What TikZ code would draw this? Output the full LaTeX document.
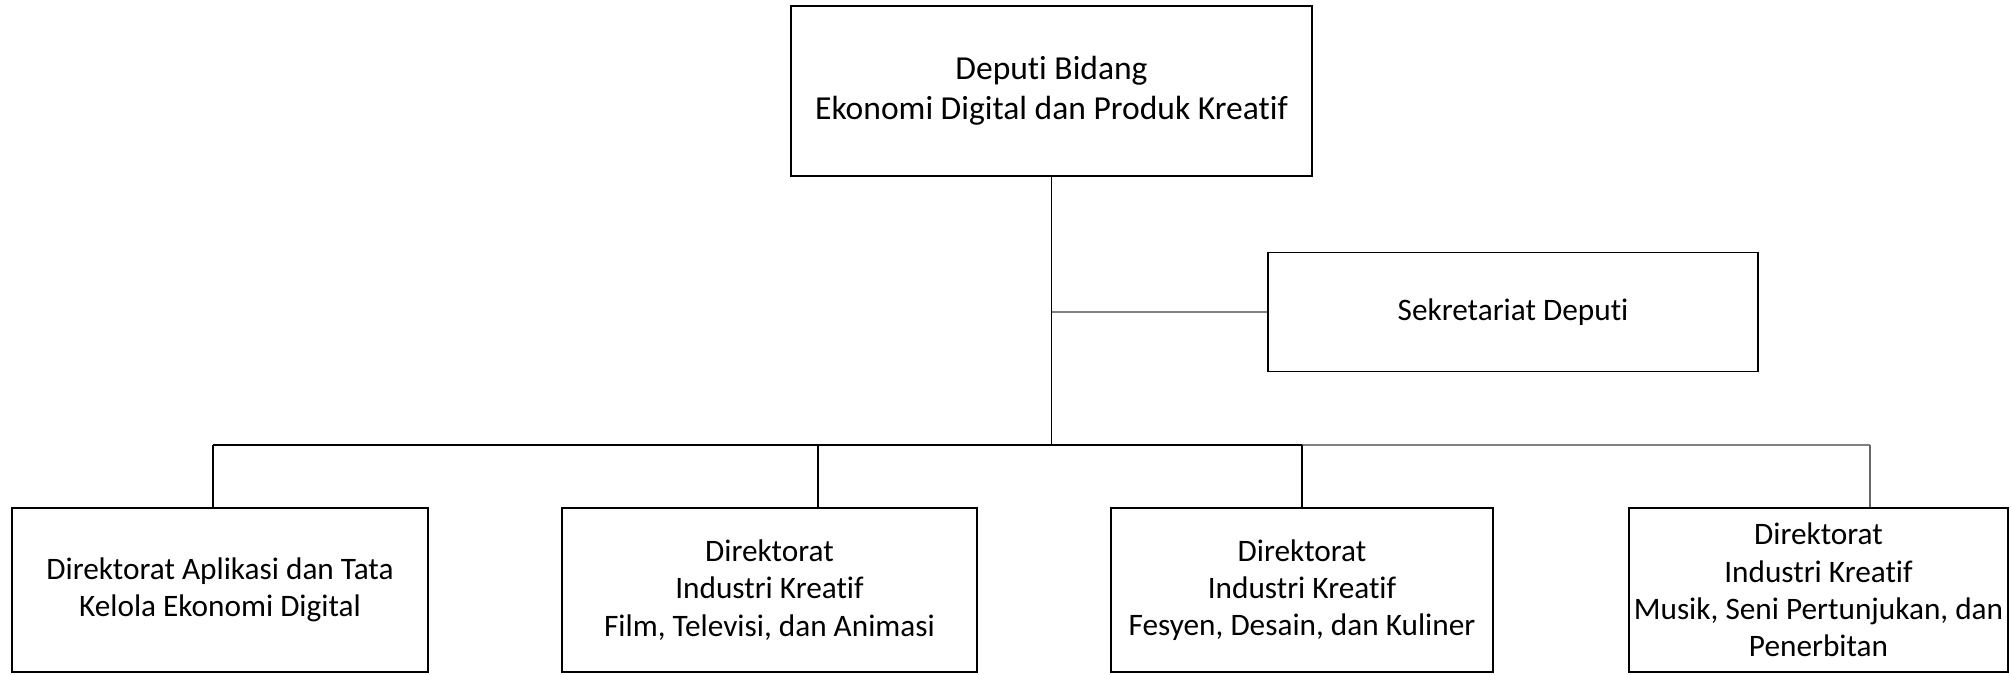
\documentclass[tikz,border=0pt]{standalone}
\usepackage{fontspec}
\setmainfont{Carlito}[Ligatures=NoCommon]
\usetikzlibrary{positioning}

\tikzset{
  unitbox/.style={draw, line width=0.9pt, align=center, inner sep=0pt,
    minimum height=3.28cm},
  link/.style={line width=0.8pt}
}

\begin{document}
\begin{tikzpicture}[x=0.02cm, y=-0.02cm, font=\fontsize{17.8}{21.2}\selectfont]
  % Page area
  \useasboundingbox (0,0) rectangle (2011,674);
  % Head of the deputy
  \node[unitbox, minimum width=10.42cm, minimum height=3.4cm,
    font=\fontsize{19.1}{22.8}\selectfont] (deputi) at (1051.5,91)
    {Deputi Bidang\\Ekonomi Digital dan Produk Kreatif};
  % Secretariat
  \node[unitbox, minimum width=9.8cm, minimum height=2.38cm] (sek) at (1513,312)
    {Sekretariat Deputi};
  % Directorates
  \node[unitbox, minimum width=8.32cm] (aplikasi) at (220,590)
    {Direktorat Aplikasi dan Tata\\Kelola Ekonomi Digital};
  \node[unitbox, minimum width=8.3cm] (film) at (769.5,590)
    {Direktorat\\Industri Kreatif\\Film, Televisi, dan Animasi};
  \node[unitbox, minimum width=7.64cm] (fesyen) at (1302,590)
    {Direktorat\\Industri Kreatif\\Fesyen, Desain, dan Kuliner};
  \node[unitbox, minimum width=7.58cm] (musik) at (1818.5,590)
    {Direktorat\\Industri Kreatif\\Musik, Seni Pertunjukan, dan\\Penerbitan};
  % Bus junctions
  \coordinate (j1) at (213,445);
  \coordinate (j2) at (818,445);
  \coordinate (j3) at (1302,445);
  \coordinate (j4) at (1870,445);
  % Trunk and secretariat branch
  \draw[link] (deputi.south) -- (deputi.south |- j1);
  \draw[link, gray, line width=1.3pt] (deputi.south |- sek.west) -- (sek.west);
  % Bus
  \draw[link] (j1) -- (j2);
  \draw[link, line width=1.1pt] (j2) -- (j3);
  \draw[link, gray] (j3) -- (j4);
  % Drops to the directorates
  \draw[link] (j1) -- (j1 |- aplikasi.north);
  \draw[link] (j2) -- (j2 |- film.north);
  \draw[link] (j3) -- (fesyen.north);
  \draw[link, gray!80!black] (j4) -- (j4 |- musik.north);
\end{tikzpicture}
\end{document}
